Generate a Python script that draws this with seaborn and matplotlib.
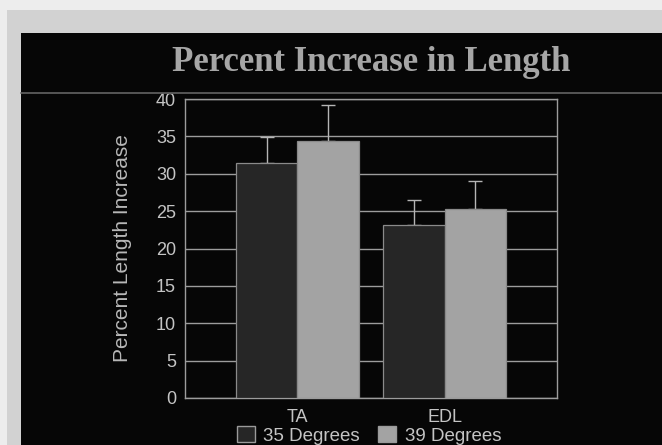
import matplotlib
matplotlib.use("Agg")
import matplotlib.pyplot as plt
from matplotlib.patches import Rectangle, Patch
from matplotlib.lines import Line2D
import seaborn as sns
import pandas as pd

# Data: mean percent length increase with upper error (SEM)
muscles = ["TA", "EDL"]
temps = ["35 Degrees", "39 Degrees"]
mean_35 = [31.4, 23.2]
err_35 = [3.5, 3.3]
mean_39 = [34.4, 25.3]
err_39 = [4.8, 3.7]
yticks = [0, 5, 10, 15, 20, 25, 30, 35, 40]

df = pd.DataFrame({
    "muscle": muscles * 2,
    "temp": [temps[0]] * 2 + [temps[1]] * 2,
    "value": mean_35 + mean_39,
    "err": err_35 + err_39,
})

W, H = 662, 445
DARK_BAR = "#262626"
LIGHT_BAR = "#a3a3a3"
TEXT = "#c4c4c4"
GRID = "#9c9c9c"
SLIDE = "#060606"

sns.set_style("dark")
plt.rcParams["font.family"] = ["Liberation Sans", "DejaVu Sans"]

fig = plt.figure(figsize=(W / 100, H / 100), dpi=100)
fig.patch.set_facecolor("#d2d2d2")

def px_rect(x0, y0, x1, y1, color, z):
    fig.patches.append(Rectangle((x0 / W, 1 - y1 / H), (x1 - x0) / W, (y1 - y0) / H,
                                 transform=fig.transFigure, facecolor=color,
                                 edgecolor="none", zorder=z))

# paper margin and the dark slide
px_rect(0, 0, W, 10, "#ededed", -3)
px_rect(0, 0, 7, H, "#ededed", -3)
px_rect(21, 33, W, H, SLIDE, -2)

# rule under the title
fig.add_artist(Line2D([21 / W, 1], [1 - 93 / H] * 2, transform=fig.transFigure,
                      color="#5c5c5c", lw=1.3))

fig.text(371 / W, 1 - 71 / H, "Percent Increase in Length", ha="center", va="baseline",
         fontsize=25, fontweight="bold", color="#a6a6a6",
         family=["Liberation Serif", "DejaVu Serif"])

ax = fig.add_axes([185 / W, 1 - 398 / H, 372 / W, 299 / H])
ax.set_facecolor(SLIDE)

sns.barplot(data=df, x="muscle", y="value", hue="temp", order=muscles, hue_order=temps,
            palette=[DARK_BAR, LIGHT_BAR], width=0.84, errorbar=None, legend=False,
            edgecolor="#8a8a8a", linewidth=0.9, saturation=1, ax=ax, zorder=3)

# upper error bars placed on each drawn bar
lookup = {(m, t): e for m, t, e in zip(df["muscle"], df["temp"], df["err"])}
bars = [p for p in ax.patches if p.get_height() > 0]
order = [(m, t) for t in temps for m in muscles]
for p, key in zip(bars, order):
    xc = p.get_x() + p.get_width() / 2
    top = p.get_height()
    e = lookup[key]
    ax.errorbar([xc], [top], yerr=[[0], [e]], fmt="none", ecolor="#b5b5b5",
                elinewidth=1.0, capsize=5, capthick=1.0, zorder=2)

ax.set_xlim(-0.765, 1.765)
ax.set_ylim(0, 40)
ax.set_yticks(yticks)
ax.yaxis.grid(True, color=GRID, lw=1.0, zorder=0)
ax.xaxis.grid(False)
ax.set_axisbelow(True)
for s in ax.spines.values():
    s.set_visible(True)
    s.set_color(GRID)
    s.set_linewidth(1.0)

ax.tick_params(axis="y", length=0, pad=6.5, labelsize=13, labelcolor=TEXT)
ax.tick_params(axis="x", length=0, pad=8, labelsize=13, labelcolor=TEXT)
ax.set_xlabel("")
ax.set_ylabel("Percent Length Increase", fontsize=15, color="#b8b8b8")
ax.yaxis.label.set_va("center")
ax.yaxis.set_label_coords((122 - 185) / 372, 0.5)

handles = [Patch(facecolor=DARK_BAR, edgecolor="#9a9a9a", lw=1.0, label=temps[0]),
           Patch(facecolor=LIGHT_BAR, edgecolor="#9a9a9a", lw=1.0, label=temps[1])]
leg = fig.legend(handles=handles, ncol=2, loc="center", bbox_to_anchor=(369 / W, 1 - 435.5 / H),
                 frameon=False, fontsize=13.5, handlelength=0.95, handleheight=0.95,
                 handletextpad=0.45, columnspacing=1.0, borderpad=0, borderaxespad=0)
for t in leg.get_texts():
    t.set_color(TEXT)

fig.savefig("out.png", dpi=100, facecolor=fig.get_facecolor())
